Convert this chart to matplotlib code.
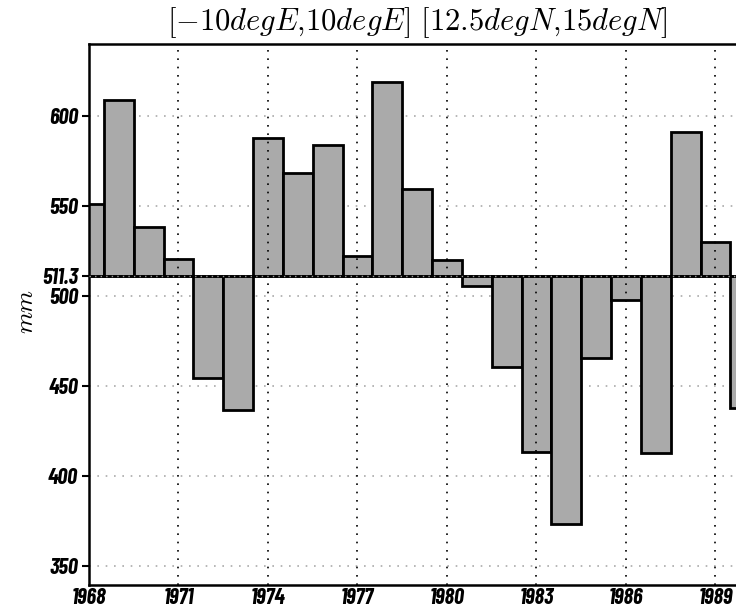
import numpy as np
import matplotlib
matplotlib.use("Agg")
import matplotlib.pyplot as plt

# annual rainfall, box [-10E,10E] x [12.5N,15N]
years = np.arange(1968, 1991)
rain = [551, 609, 538.5, 520.4, 454.6, 436.5, 588.0, 568.2, 583.9, 522.4,
        618.7, 559.6, 520.0, 505.6, 460.6, 413.5, 373.2, 465.7, 497.8, 412.6,
        591.1, 530.2, 437.6]
base = 511.3
ytick_vals = [350, 400, 450, 500, 550, 600]
xtick_vals = list(range(1968, 1990, 3))

plt.rcParams['mathtext.fontset'] = 'cm'
tick_font = dict(family=['Barlow Condensed', 'DejaVu Sans'], weight='bold',
                 style='italic', size=16)

fig = plt.figure(figsize=(7.36, 6.10), dpi=100)
ax = fig.add_axes([89 / 736, 25 / 610, 1 - 89 / 736, 541 / 610])

heights = np.array(rain) - base
ax.bar(years, heights, bottom=base, width=1.0, color='#aaaaaa',
       edgecolor='black', linewidth=2, zorder=2)

ax.set_xlim(1968, 1989.69)
ax.set_ylim(339.4, 640)

# grid: black dotted verticals, grey dotted horizontals
for x in xtick_vals[1:]:
    ax.axvline(x, color='black', linestyle=(0, (1, 4)), linewidth=1.2, zorder=3)
for y in ytick_vals:
    ax.axhline(y, color='#aaaaaa', linestyle=(0, (1, 4)), linewidth=1.2, zorder=1)
ax.axhline(base, color='black', linewidth=1.8, zorder=3)
ax.axhline(base, color='#999999', linestyle=(0, (1, 3)), linewidth=1.0, zorder=4)

ax.set_yticks(ytick_vals + [base])
ax.set_yticklabels([str(v) for v in ytick_vals] + ['511.3'], fontdict=tick_font)
ax.set_xticks(xtick_vals)
ax.set_xticklabels([str(v) for v in xtick_vals], fontdict=tick_font)
ax.tick_params(axis='y', direction='out', length=5, width=1.5, pad=3)
ax.tick_params(axis='x', length=0, pad=2)

for side in ['left', 'bottom', 'top']:
    ax.spines[side].set_linewidth(1.8)
ax.spines['right'].set_visible(False)

ax.set_ylabel(r'$mm$', fontsize=18)
ax.yaxis.set_label_coords(-0.079, 0.505)
fig.text(0.567, 0.963, r'$[\mathit{-10degE{,}10degE}]\ [\mathit{12.5degN{,}15degN}]$',
         ha='center', va='center', fontsize=22)

fig.savefig('out.png', dpi=100)
